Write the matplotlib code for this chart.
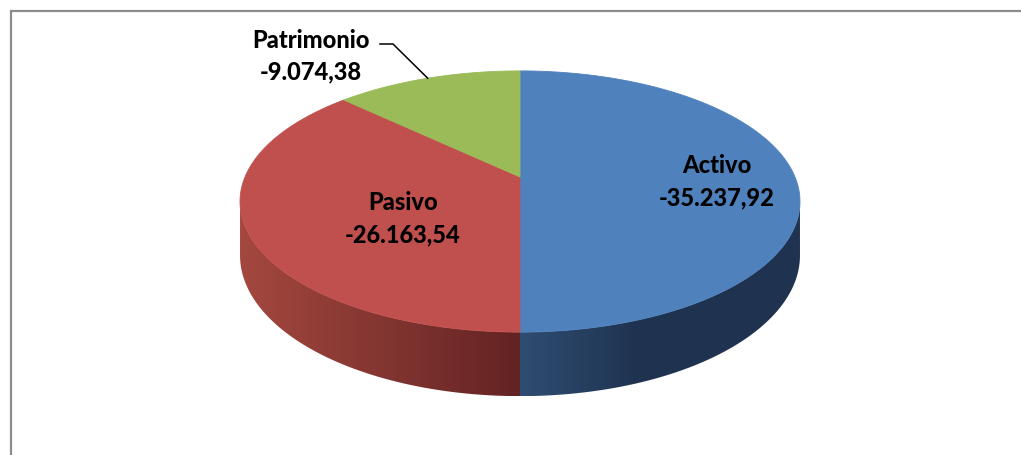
import numpy as np
import matplotlib.pyplot as plt
from matplotlib.patches import Polygon
from matplotlib.colors import to_rgb

# data
labels = ["Activo", "Pasivo", "Patrimonio"]
values = [-35237.92, -26163.54, -9074.38]
value_text = ["-35.237,92", "-26.163,54", "-9.074,38"]
top_colors = ["#4F81BD", "#C0504D", "#9BBB59"]
side_light = ["#2F4D72", "#A4483F", "#7A9446"]
side_dark = ["#1F3350", "#632323", "#55692F"]

# projection of the tilted disk (pixel space, y down)
CX, CY = 520, 178
A, B, K = 275, 126, 0.1877
D = 52


def proj(t, drop=0.0, r=1.0):
    u, v = r * np.cos(t), r * np.sin(t)
    w = 1 + K * v
    return CX + A * u / w, CY - B * v / w + drop * D / w


fig = plt.figure(figsize=(10.21, 4.56), dpi=100)
ax = fig.add_axes([0, 0, 1, 1])
ax.set_xlim(0, 1021)
ax.set_ylim(456, 0)
ax.axis("off")

# chart border (right/bottom run off the image)
ax.plot([10.5, 10.5, 1021], [456, 11.5, 11.5], color="#8C8C8C", lw=1.6,
        solid_joinstyle="miter")

vals = np.abs(np.array(values))
fracs = vals / vals.sum()
# start at 12 o'clock, go clockwise
ends = np.pi / 2 - 2 * np.pi * np.cumsum(fracs)
starts = np.concatenate([[np.pi / 2], ends[:-1]])

# visible part of the side wall lies between the silhouette angles
sil_right = -np.arcsin(K)
sil_left = -np.pi + np.arcsin(K)

for i in range(len(values)):
    hi = min(starts[i], sil_right)
    lo = max(ends[i], sil_left)
    if hi <= lo:
        continue
    ts = np.linspace(hi, lo, 300)
    xt, yt = proj(ts)
    xb, yb = proj(ts, 1)
    pts = np.column_stack([np.concatenate([xt, xb[::-1]]),
                           np.concatenate([yt, yb[::-1]])])
    poly = Polygon(pts, closed=True, facecolor="none", edgecolor="none")
    ax.add_patch(poly)
    xmin, xmax = pts[:, 0].min(), pts[:, 0].max()
    f = np.linspace(0, 1, 256)
    if i == 0:
        f = np.clip(f / 0.42, 0, 1)
    grad = (1 - f)[:, None] * np.array(to_rgb(side_light[i])) + \
        f[:, None] * np.array(to_rgb(side_dark[i]))
    im = ax.imshow(grad[None, :, :], extent=[xmin, xmax, pts[:, 1].max(), pts[:, 1].min()],
                   aspect="auto", interpolation="bilinear", zorder=1)
    im.set_clip_path(poly)

ax.set_xlim(0, 1021)
ax.set_ylim(456, 0)

# top face
for i in range(len(values)):
    ts = np.linspace(starts[i], ends[i], 300)
    xs, ys = proj(ts)
    pts = np.column_stack([np.concatenate([[CX], xs]), np.concatenate([[CY], ys])])
    ax.add_patch(Polygon(pts, closed=True, facecolor=top_colors[i],
                         edgecolor=top_colors[i], lw=0.6, zorder=2))

# labels
font = dict(family=["Lato", "DejaVu Sans"], fontweight=900, fontsize=17,
            color="black", ha="center", va="center", zorder=4)
label_pos = [(717, 166), (403, 203), (311, 40)]
for i in range(len(values)):
    lx, ly = label_pos[i]
    ax.text(lx, ly, labels[i], **font)
    ax.text(lx, ly + 32, value_text[i], **font)

# leader line for Patrimonio
mid = (starts[2] + ends[2]) / 2
ex, ey = proj(mid)
ax.plot([380, 393, ex], [45, 45, ey], color="black", lw=1.1, zorder=3)

fig.savefig("out.png", dpi=100)
